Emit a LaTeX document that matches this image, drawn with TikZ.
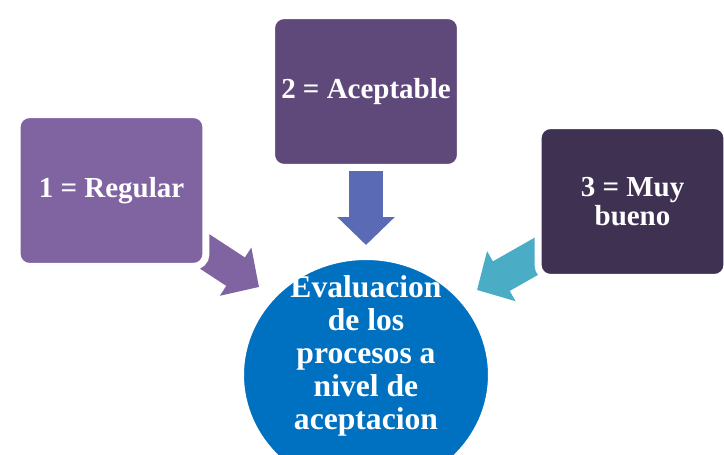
\documentclass[tikz,border=0pt]{standalone}
\usepackage{fontspec}
\setmainfont{Liberation Serif}
\usetikzlibrary{shapes.geometric,arrows.meta,shadows,backgrounds}
\definecolor{regular}{HTML}{8064A2}
\definecolor{aceptable}{HTML}{5F497A}
\definecolor{muybueno}{HTML}{3F3151}
\definecolor{flecha}{HTML}{5B6AB4}
\definecolor{celeste}{HTML}{4BACC6}
\definecolor{azul}{HTML}{0070C0}
\begin{document}
\begin{tikzpicture}[x=0.02cm,y=-0.02cm,
  sombra/.style={drop shadow={shadow xshift=0.4pt,shadow yshift=-0.9pt,shadow scale=1.01,opacity=0.3}},
  caja/.style={draw=white,line width=0.14cm,rounded corners=0.25cm,minimum width=3.78cm,minimum height=3.04cm,text=white,align=center,font=\bfseries\fontsize{16.5}{16.5}\selectfont,sombra},
  bloque/.style={line width=0.68cm,-{Triangle[length=0.56cm,width=1.12cm]}}]
\useasboundingbox (0,0) rectangle (724,455);
\node[caja,fill=regular] (b1) at (111.5,190.5) {1 = Regular};
\node[caja,fill=aceptable] (b2) at (366,91.5) {2 = Aceptable};
\node[caja,fill=muybueno] (b3) at (632.5,201.5) {3 = Muy\\bueno};
\node[ellipse,draw=white,line width=0.12cm,fill=azul,minimum width=5cm,minimum height=4.72cm,sombra] (eval) at (366,375) {};
\node[text=white,align=center,font=\bfseries\fontsize{18}{18.8}\selectfont] (evaltxt) at (366,356) {Evaluacion\\de los\\procesos a\\nivel de\\aceptacion};
\coordinate (t1) at (259,287);
\coordinate (t2) at (366,245);
\coordinate (t3) at (477,290);
\begin{pgfonlayer}{background}
\foreach \b/\t/\c in {b1/t1/regular,b2/t2/flecha,b3/t3/celeste}{\draw[bloque,\c] (\b.center) -- (\t);}
\end{pgfonlayer}
\end{tikzpicture}
\end{document}
